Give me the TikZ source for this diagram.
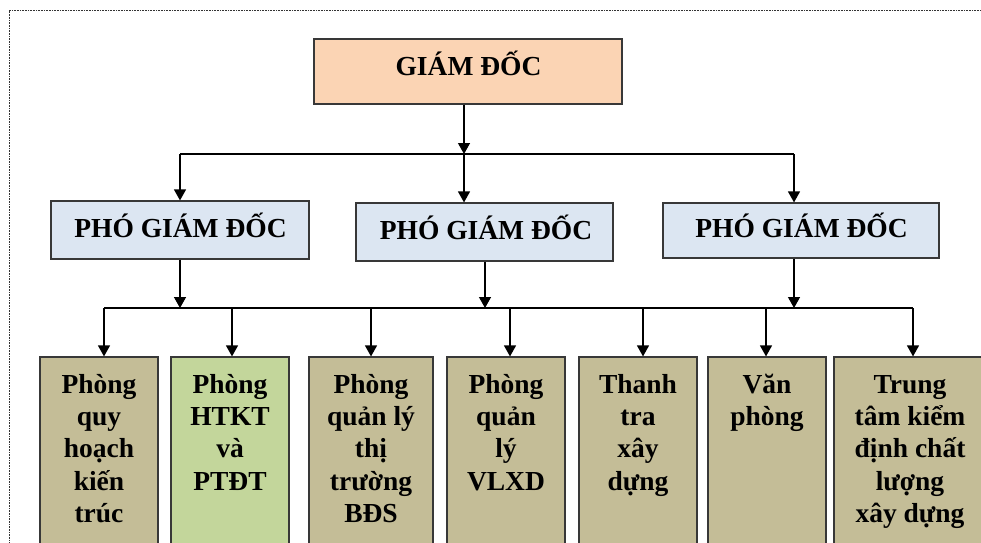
\documentclass[tikz,border=0pt]{standalone}
\usepackage{fontspec}
\setmainfont{Liberation Serif}
\usetikzlibrary{arrows.meta,shadows}

\definecolor{gdfill}{HTML}{FBD4B4}
\definecolor{pgdfill}{HTML}{DCE6F2}
\definecolor{tanfill}{HTML}{C4BD97}
\definecolor{greenfill}{HTML}{C3D69B}

\tikzset{
  boxbase/.style={draw=black!78, line width=1.2pt, inner sep=0pt,
    drop shadow={shadow xshift=1.2pt, shadow yshift=-1.2pt, opacity=0.4, fill=black!50}},
  gdbox/.style={boxbase, fill=gdfill},
  pgdbox/.style={boxbase, fill=pgdfill},
  unitbox/.style={boxbase, fill=tanfill, minimum height=213pt},
  unitgreen/.style={unitbox, fill=greenfill},
  lbl/.style={font=\fontsize{27.5}{32.3}\selectfont\bfseries, inner sep=0pt, align=center},
  arr/.style={line width=1.3pt, -{Triangle[width=12pt,length=11pt]}},
  busline/.style={line width=1.3pt},
  frameline/.style={line width=0.6pt, black!80, dash pattern=on 0.8pt off 0.8pt},
}

\begin{document}
\begin{tikzpicture}[x=1pt,y=-1pt]
  \useasboundingbox (0,0) rectangle (981,542);
  \fill[white] (0,0) rectangle (981,542);
  \clip (0,0) rectangle (981,542);

  % outer dotted frame
  \draw[frameline] (9.5,600) -- (9.5,10.5) -- (1000,10.5);

  % director
  \node[gdbox, minimum width=308pt, minimum height=65pt] (gd) at (468,71.5) {};
  \node[lbl, anchor=base] (gdt) at (468.5,75) {GIÁM ĐỐC};

  % deputy directors
  \node[pgdbox, minimum width=258pt, minimum height=58pt] (pg1) at (180,230) {};
  \node[lbl, anchor=base] (pg1t) at (180.5,237) {PHÓ GIÁM ĐỐC};
  \node[pgdbox, minimum width=257pt, minimum height=58pt] (pg2) at (484.5,232) {};
  \node[lbl, anchor=base] (pg2t) at (486,239) {PHÓ GIÁM ĐỐC};
  \node[pgdbox, minimum width=276pt, minimum height=55pt] (pg3) at (801,230.5) {};
  \node[lbl, anchor=base] (pg3t) at (801.5,237) {PHÓ GIÁM ĐỐC};

  % departments
  \node[unitbox,   minimum width=118pt] (u1) at (99,463.5) {};
  \node[unitgreen, minimum width=118pt] (u2) at (230,463.5) {};
  \node[unitbox,   minimum width=124pt] (u3) at (371,463.5) {};
  \node[unitbox,   minimum width=118pt] (u4) at (506,463.5) {};
  \node[unitbox,   minimum width=118pt] (u5) at (638,463.5) {};
  \node[unitbox,   minimum width=118pt] (u6) at (767,463.5) {};
  \node[unitbox,   minimum width=152pt] (u7) at (910,463.5) {};

  \node[lbl, anchor=north] (u1t) at (99,373) {\rule{0pt}{20pt}Phòng\\quy\\hoạch\\kiến\\trúc};
  \node[lbl, anchor=north] (u2t) at (230,373) {\rule{0pt}{20pt}Phòng\\HTKT\\và\\PTĐT};
  \node[lbl, anchor=north] (u3t) at (371,373) {\rule{0pt}{20pt}Phòng\\quản lý\\thị\\trường\\BĐS};
  \node[lbl, anchor=north] (u4t) at (506,373) {\rule{0pt}{20pt}Phòng\\quản\\lý\\VLXD};
  \node[lbl, anchor=north] (u5t) at (638,373) {\rule{0pt}{20pt}Thanh\\tra\\xây\\dựng};
  \node[lbl, anchor=north] (u6t) at (767,373) {\rule{0pt}{20pt}Văn\\phòng};
  \node[lbl, anchor=north] (u7t) at (910,373) {\rule{0pt}{20pt}Trung\\tâm kiểm\\định chất\\lượng\\xây dựng};

  % upper bus
  \coordinate (ja) at (464,154);
  \coordinate (la) at (180,154);
  \coordinate (ra) at (794,154);
  \draw[arr] (gd.south -| ja) -- (ja);
  \draw[busline] (la) -- (ra);
  \draw[arr] (la) -- (la |- pg1.north);
  \draw[arr] (ja) -- (ja |- pg2.north);
  \draw[arr] (ra) -- (ra |- pg3.north);

  % lower bus
  \coordinate (lb) at (104,308);
  \coordinate (rb) at (913,308);
  \coordinate (k1) at (180,308);
  \coordinate (k2) at (485,308);
  \coordinate (k3) at (794,308);
  \draw[busline] (lb) -- (rb);
  \draw[arr] (pg1.south -| k1) -- (k1);
  \draw[arr] (pg2.south -| k2) -- (k2);
  \draw[arr] (pg3.south -| k3) -- (k3);

  % drops to departments
  \coordinate (d1) at (104,308);
  \coordinate (d2) at (232,308);
  \coordinate (d3) at (371,308);
  \coordinate (d4) at (510,308);
  \coordinate (d5) at (643,308);
  \coordinate (d6) at (766,308);
  \coordinate (d7) at (913,308);
  \draw[arr] (d1) -- (d1 |- u1.north);
  \draw[arr] (d2) -- (d2 |- u2.north);
  \draw[arr] (d3) -- (d3 |- u3.north);
  \draw[arr] (d4) -- (d4 |- u4.north);
  \draw[arr] (d5) -- (d5 |- u5.north);
  \draw[arr] (d6) -- (d6 |- u6.north);
  \draw[arr] (d7) -- (d7 |- u7.north);
\end{tikzpicture}
\end{document}
